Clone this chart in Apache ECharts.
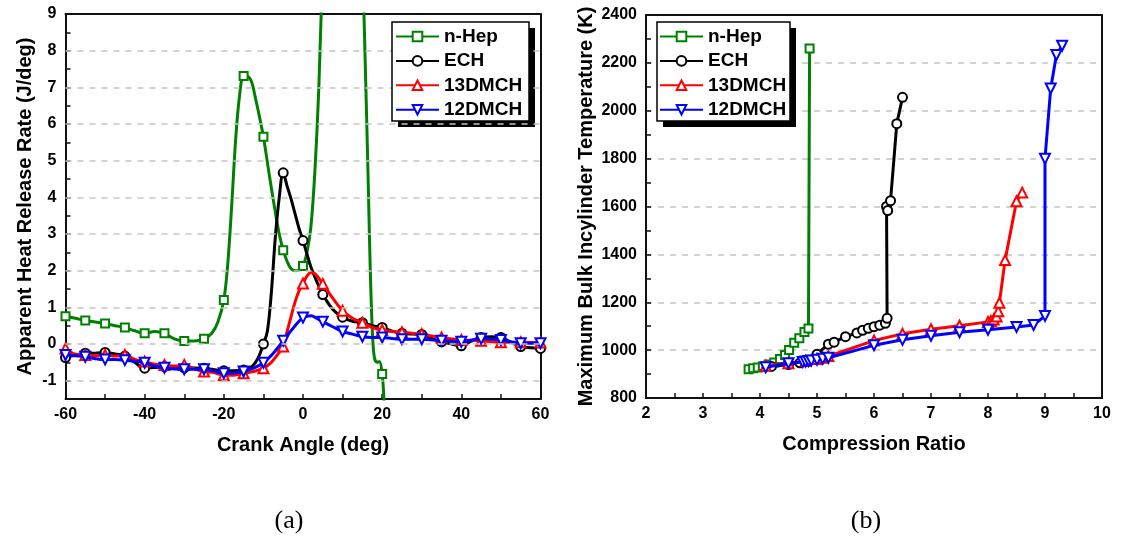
<!DOCTYPE html>
<html>
<head>
<meta charset="utf-8">
<script src="https://cdn.jsdelivr.net/npm/echarts@6/dist/echarts.min.js"></script>
<style>
html,body{margin:0;padding:0;background:#fff;}
#chart{width:1125px;height:541px;}
</style>
</head>
<body>
<div id="chart"></div>
<script>
// ---------- DATA ----------
const seriesNames = ['n-Hep', 'ECH', '13DMCH', '12DMCH'];

// (a) Apparent heat release rate vs crank angle: [deg, J/deg]
const nHepHRR = [[-60,0.76],[-57.5,0.7],[-55,0.64],[-52.5,0.6],[-50,0.56],[-47.5,0.5],[-45,0.45],[-42.5,0.36],[-40,0.29],[-37.5,0.34],[-35,0.29],[-32.5,0.14],[-30,0.08],[-27.5,0.08],[-25,0.14],[-23,0.3],[-21.5,0.6],[-20,1.2],[-19,2.2],[-18,3.8],[-17,5.6],[-16,6.8],[-15,7.31],[-14,7.3],[-13,7.15],[-12,6.7],[-11,6.2],[-10,5.65],[-8.5,4.6],[-7,3.6],[-6,3.0],[-5,2.56],[-4,2.25],[-3,2.05],[-2,2.0],[-1,2.02],[0,2.13],[1,2.5],[2,3.2],[3,4.7],[4,7.0],[5,10.5],[7,17],[10,22],[13,17],[15,10.5],[16,6.5],[16.5,4.3],[17,2.0],[17.5,0.4],[18,-0.35],[18.7,-0.5],[19.3,-0.48],[20,-0.82],[20.5,-1.6],[21,-2.6]];
const echHRR = [[-60,-0.37],[-57.5,-0.3],[-55,-0.25],[-52.5,-0.25],[-50,-0.23],[-47.5,-0.27],[-45,-0.33],[-42.5,-0.5],[-40,-0.66],[-37.5,-0.64],[-35,-0.62],[-30,-0.65],[-25,-0.66],[-20,-0.73],[-17.5,-0.73],[-15,-0.71],[-13,-0.62],[-12,-0.5],[-11,-0.3],[-10,0.0],[-9,0.35],[-8,1.4],[-7,2.9],[-6,4.0],[-5,4.67],[-4,4.3],[-3,3.95],[-2,3.55],[-1,3.15],[0,2.82],[1,2.45],[2,2.1],[3.5,1.7],[5,1.35],[7.5,0.95],[10,0.73],[12.5,0.62],[15,0.58],[17.5,0.5],[20,0.45],[22.5,0.35],[25,0.29],[27.5,0.27],[30,0.26],[32.5,0.15],[35,0.06],[37.5,0.0],[40,-0.05],[42.5,0.08],[45,0.18],[47.5,0.2],[50,0.18],[52.5,0.05],[55,-0.07],[57.5,-0.1],[60,-0.12]];
const dmch13HRR = [[-60,-0.12],[-57.5,-0.28],[-55,-0.3],[-52.5,-0.32],[-50,-0.3],[-47.5,-0.33],[-45,-0.3],[-42.5,-0.42],[-40,-0.48],[-37.5,-0.55],[-35,-0.57],[-32.5,-0.6],[-30,-0.57],[-27.5,-0.68],[-25,-0.75],[-22.5,-0.78],[-20,-0.85],[-17.5,-0.85],[-15,-0.8],[-12.5,-0.75],[-10,-0.66],[-8,-0.5],[-6.5,-0.3],[-5,-0.07],[-4,0.35],[-3,0.75],[-2,1.15],[-1,1.45],[0,1.65],[1,1.85],[2,1.95],[3,1.92],[5,1.64],[7.5,1.25],[10,0.91],[12.5,0.7],[15,0.58],[17.5,0.45],[20,0.38],[22.5,0.34],[25,0.32],[27.5,0.29],[30,0.27],[32.5,0.22],[35,0.18],[37.5,0.14],[40,0.11],[45,0.09],[50,0.05],[55,0.05],[60,0.04]];
const dmch12HRR = [[-60,-0.3],[-57.5,-0.32],[-55,-0.35],[-52.5,-0.4],[-50,-0.42],[-47.5,-0.42],[-45,-0.44],[-42.5,-0.47],[-40,-0.51],[-37.5,-0.6],[-35,-0.65],[-32.5,-0.68],[-30,-0.69],[-27.5,-0.69],[-25,-0.69],[-22.5,-0.74],[-20,-0.8],[-17.5,-0.79],[-15,-0.75],[-12.5,-0.66],[-10,-0.51],[-7.5,-0.25],[-5,0.09],[-3.5,0.3],[-2,0.5],[-1,0.62],[0,0.72],[2,0.77],[3.5,0.7],[5,0.61],[7.5,0.47],[10,0.34],[12.5,0.27],[15,0.2],[17.5,0.18],[20,0.18],[22.5,0.15],[25,0.13],[30,0.13],[35,0.09],[40,0.06],[45,0.14],[50,0.11],[55,0.02],[60,0.02]];
const hrrMarkerStep = 5;

// (b) Maximum bulk in-cylinder temperature vs compression ratio: [CR, K]
const nHepTmax = [[3.8,920],[3.88,924],[3.96,927],[4.05,932],[4.15,940],[4.25,948],[4.35,963],[4.44,980],[4.51,1001],[4.6,1031],[4.69,1050],[4.78,1076],[4.85,1090],[4.87,2260]];
const echTmax = [[4.2,932],[4.5,940],[4.7,947],[4.85,958],[5.0,983],[5.2,1025],[5.3,1033],[5.5,1056],[5.7,1072],[5.8,1083],[5.9,1091],[6.0,1098],[6.1,1104],[6.2,1112],[6.23,1133],[6.22,1600],[6.24,1583],[6.29,1624],[6.4,1946],[6.5,2056]];
const dmch13Tmax = [[4.1,935],[4.5,945],[4.8,955],[5.0,963],[5.1,968],[5.2,975],[6.0,1040],[6.5,1068],[7.0,1087],[7.5,1102],[8.0,1118],[8.05,1122],[8.1,1128],[8.15,1140],[8.18,1162],[8.2,1198],[8.3,1376],[8.5,1622],[8.6,1658]];
const dmch12Tmax = [[4.1,928],[4.5,945],[4.75,950],[4.8,952],[4.85,955],[4.9,957],[5.0,960],[5.1,964],[5.2,968],[6.0,1020],[6.5,1043],[7.0,1060],[7.5,1075],[8.0,1085],[8.5,1097],[8.8,1105],[9.0,1143],[9.0,1800],[9.1,2093],[9.2,2233],[9.3,2272]];

// Axis labels / gridline values
const hrrGridValues = [-1,0,1,2,3,4,5,6,7,8];
const titles = {
  aX: 'Crank Angle (deg)', aY: 'Apparent Heat Release Rate (J/deg)',
  bX: 'Compression Ratio', bY: 'Maximum Bulk Incylinder Temperature (K)'
};

// ---------- STYLE ----------
const colors = ['#008000', '#000000', '#ff0000', '#0000ff'];
const symbols = ['emptyRect', 'emptyCircle', 'emptyTriangle', 'emptyTriangle'];
const symbolRot = [0, 0, 0, 180];
const symbolSizes = [8, 9, 10, 10];
const FONT = '"Liberation Sans", Arial, sans-serif';
const axisLineStyle = { color: '#111', width: 2 };

function mainAxis(gridIndex, min, max, interval, minorSplit, name, nameGap, isY) {
  return {
    type: 'value', gridIndex, min, max, interval,
    position: isY ? 'left' : 'bottom',
    name, nameLocation: 'middle', nameGap,
    nameTextStyle: { fontFamily: FONT, fontSize: 20, fontWeight: 'bold', color: '#000' },
    axisLine: { show: true, onZero: false, lineStyle: axisLineStyle },
    axisTick: { show: true, inside: true, length: 5, lineStyle: { color: '#111', width: 1.5 } },
    minorTick: { show: minorSplit > 0, splitNumber: minorSplit || 5, length: 5, lineStyle: { color: '#111', width: 1.5 } },
    axisLabel: { fontFamily: FONT, fontSize: 16, fontWeight: 'bold', color: '#000', margin: isY ? 9 : 8,
                 formatter: v => String(v) },
    splitLine: { show: false }
  };
}
function frameAxis(gridIndex, min, max, position) {
  return {
    type: 'value', gridIndex, min, max, position,
    axisLine: { show: true, onZero: false, lineStyle: axisLineStyle },
    axisTick: { show: false }, axisLabel: { show: false }, splitLine: { show: false }
  };
}

const xA = mainAxis(0, -60, 60, 20, 2, titles.aX, 36, false);
const yA = mainAxis(0, -1.5, 9, 0.5, 0, titles.aY, 30, true);
yA.axisLabel.formatter = v => (Math.abs(v - Math.round(v)) < 1e-9 ? String(Math.round(v)) : '');
const xB = mainAxis(1, 2, 10, 1, 2, titles.bX, 36, false);
const yB = mainAxis(1, 800, 2400, 200, 2, titles.bY, 50, true);
yB.splitLine = { show: true, lineStyle: { color: '#c4c4c4', width: 1.5, type: [6, 6] } };

function hrrData(arr) {
  return arr.map(([x, y]) => (Math.abs(x % hrrMarkerStep) < 1e-9 ? [x, y] : { value: [x, y], symbol: 'none' }));
}
function mkSeries(i, data, xi, yi, smooth) {
  return {
    name: seriesNames[i], type: 'line', xAxisIndex: xi, yAxisIndex: yi,
    data, smooth: smooth ? 0.35 : false, clip: true,
    symbol: symbols[i], symbolSize: symbolSizes[i], symbolRotate: symbolRot[i],
    showSymbol: true, showAllSymbol: true,
    lineStyle: { color: colors[i], width: 3 },
    itemStyle: { color: colors[i], borderColor: colors[i], borderWidth: 1.4 },
    z: 3 + i * 0.1
  };
}

const hrrSets = [nHepHRR, echHRR, dmch13HRR, dmch12HRR];
const tSets = [nHepTmax, echTmax, dmch13Tmax, dmch12Tmax];

const series = [{
  name: 'grid-a', type: 'line', xAxisIndex: 0, yAxisIndex: 0, data: [], z: 1,
  markLine: {
    silent: true, symbol: ['none', 'none'], animation: false,
    label: { show: false },
    lineStyle: { color: '#c4c4c4', width: 1.5, type: [6, 6] },
    data: hrrGridValues.map(v => ({ yAxis: v }))
  }
}];
hrrSets.forEach((d, i) => series.push(mkSeries(i, hrrData(d), 0, 0, true)));
tSets.forEach((d, i) => series.push(mkSeries(i, d, 2, 2, false)));

const legendBase = {
  orient: 'vertical', top: 26.5, padding: 0, itemWidth: 43, itemHeight: 12, itemGap: 4.4,
  data: seriesNames, selectedMode: false, z: 10,
  textStyle: { fontFamily: FONT, fontSize: 19, fontWeight: 'bold', color: '#000', lineHeight: 20 }
};

const legendBoxes = [
  { x: 392, y: 22, w: 137, h: 99 },
  { x: 657, y: 22, w: 133, h: 99 }
];
const graphics = [];
legendBoxes.forEach(b => {
  graphics.push({ type: 'rect', z: 5, shape: { x: b.x + 6, y: b.y + 6, width: b.w, height: b.h }, style: { fill: '#000' } });
  graphics.push({ type: 'rect', z: 6, shape: { x: b.x, y: b.y, width: b.w, height: b.h }, style: { fill: '#fff', stroke: '#000', lineWidth: 1.5 } });
});
graphics.push({ type: 'text', z: 6, style: { text: '(a)', x: 289, y: 521, align: 'center', verticalAlign: 'middle', fill: '#000', font: '26px "Liberation Serif", "Times New Roman", serif' } });
graphics.push({ type: 'text', z: 6, style: { text: '(b)', x: 866, y: 521, align: 'center', verticalAlign: 'middle', fill: '#000', font: '26px "Liberation Serif", "Times New Roman", serif' } });

const option = {
  animation: false,
  backgroundColor: '#fff',
  grid: [
    { left: 65.5, top: 14, width: 475, height: 385 },
    { left: 646, top: 15, width: 456, height: 383 }
  ],
  xAxis: [xA, frameAxis(0, -60, 60, 'top'), xB, frameAxis(1, 2, 10, 'top')],
  yAxis: [yA, frameAxis(0, -1.5, 9, 'right'), yB, frameAxis(1, 800, 2400, 'right')],
  legend: [Object.assign({}, legendBase, { left: 395 }), Object.assign({}, legendBase, { left: 659 })],
  graphic: graphics,
  series
};

const chart = echarts.init(document.getElementById('chart'), null, { renderer: 'canvas' });
chart.setOption(option);
</script>
</body>
</html>
